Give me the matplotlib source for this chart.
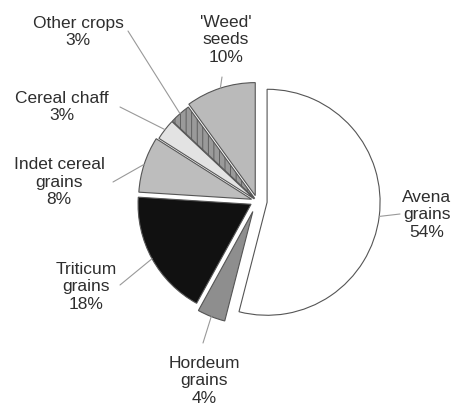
import numpy as np
import matplotlib
matplotlib.use("Agg")
import matplotlib.pyplot as plt

plt.rcParams['font.family'] = ['Liberation Sans', 'DejaVu Sans']
plt.rcParams['hatch.linewidth'] = 0.6

# charred plant remains, share of identified items (%)
labels = ["Avena\ngrains", "Hordeum\ngrains", "Triticum\ngrains", "Indet cereal\ngrains",
          "Cereal chaff", "Other crops", "'Weed'\nseeds"]
shares = [54, 4, 18, 8, 3, 3, 10]
fills = ["#ffffff", "#8e8e8e", "#111111", "#bdbdbd", "#e3e3e3", "#9a9a9a", "#bababa"]
hatches = [None, None, None, None, None, "|||", None]
explode = [0.09, 0.10, 0.06, 0.05, 0.03, 0.03, 0.05]

# label text centres and leader line starts, in pixels from top-left
text_pos = [(427, 215), (204, 381), (86, 287), (59, 182), (62, 107), (78, 32), (226, 40)]
line_start = [(400, 214), (203, 343), (120, 285), (113, 182), (120, 107), (128, 31), (222, 77)]

W, H = 455, 409
R = 113
fig = plt.figure(figsize=(W / 100, H / 100), dpi=100)
ax = fig.add_axes([0, 0, 1, 1])


def px(x, y):
    return x, H - y


# pie() takes the explode offset in data units, so scale by the radius
wedges, _ = ax.pie(shares, explode=[e * R for e in explode], colors=fills,
                   startangle=90, counterclock=False,
                   center=px(257, 201), radius=R,
                   wedgeprops=dict(edgecolor="#555555", linewidth=0.8))
for w, h in zip(wedges, hatches):
    if h:
        w.set_hatch(h)

# pie() resets the view, so fix the pixel frame afterwards
ax.set_xlim(0, W)
ax.set_ylim(0, H)
ax.set_aspect('equal')
ax.axis('off')

for w, lab, val, tp, ls in zip(wedges, labels, shares, text_pos, line_start):
    mid = np.deg2rad((w.theta1 + w.theta2) / 2)
    cx, cy = w.center
    arc = (cx + w.r * np.cos(mid), cy + w.r * np.sin(mid))
    ax.annotate("", xy=arc, xytext=px(*ls),
                arrowprops=dict(arrowstyle="-", color="#999999", lw=0.8,
                                shrinkA=0, shrinkB=0))
    ax.text(*px(*tp), "%s\n%d%%" % (lab, val), ha="center", va="center",
            fontsize=12.5, color="#2e2e2e", linespacing=1.2)

fig.savefig("out.png", dpi=100)
